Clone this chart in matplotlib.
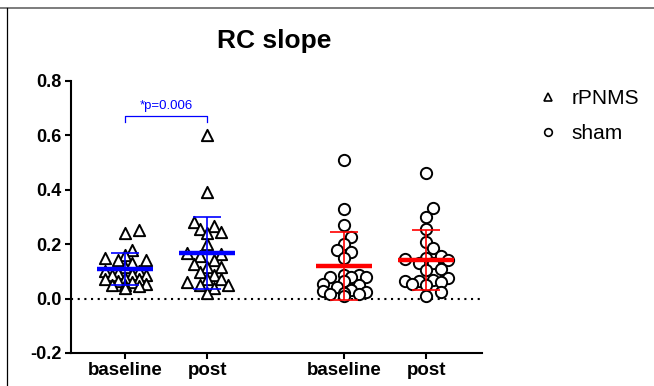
import matplotlib
matplotlib.use("Agg")
import matplotlib.pyplot as plt
from matplotlib.lines import Line2D
import numpy as np

plt.rcParams['font.family'] = ['Liberation Sans', 'DejaVu Sans']

# values
groups = ['baseline', 'post', 'baseline', 'post']
positions = [1.0, 2.0, 3.67, 4.67]

rpnms_baseline = [0.25, 0.24, 0.18, 0.16, 0.15, 0.14, 0.14, 0.13, 0.115, 0.10,
                  0.10, 0.095, 0.09, 0.085, 0.085, 0.075, 0.07, 0.07, 0.065,
                  0.06, 0.055, 0.05, 0.05, 0.045, 0.04]
rpnms_post = [0.60, 0.39, 0.28, 0.268, 0.256, 0.245, 0.24, 0.199, 0.167, 0.164,
              0.157, 0.143, 0.127, 0.115, 0.115, 0.097, 0.085, 0.07, 0.07,
              0.06, 0.05, 0.048, 0.04, 0.02]
sham_baseline = [0.51, 0.33, 0.27, 0.225, 0.20, 0.18, 0.17, 0.15, 0.085, 0.085,
                 0.08, 0.08, 0.08, 0.065, 0.055, 0.048, 0.042, 0.033, 0.027,
                 0.023, 0.021, 0.017, 0.017, 0.011]
sham_post = [0.461, 0.332, 0.301, 0.256, 0.207, 0.186, 0.158, 0.15, 0.146, 0.143,
             0.131, 0.13, 0.109, 0.103, 0.076, 0.069, 0.066, 0.066, 0.06,
             0.054, 0.048, 0.023, 0.008]

group_means = [0.1075, 0.1685, 0.12, 0.1425]
group_sds = [0.0595, 0.1325, 0.124, 0.11]
bar_colors = ['#0000ff', '#0000ff', '#ff0000', '#ff0000']

p_label = '*p=0.006'


def column_scatter_x(ax, x0, vals, col_w=6.8, gap_same=10.0, gap_next=5.0, max_col=3):
    # Prism-like column scatter: points snap to columns, nearest free column first;
    # if none is free within max_col, take the least crowded one
    trans = ax.transData
    pts = trans.transform(np.column_stack([np.full(len(vals), x0), vals]))
    placed = []
    xs = np.zeros(len(vals))
    cols = [0]
    for c in range(1, max_col + 1):
        cols += [c, -c]
    for i in np.argsort(vals):
        px, py = pts[i]
        chosen, best_score = None, -1.0
        for col in cols:
            score = 1.0
            for qc, qy in placed:
                d = abs(col - qc)
                dy = abs(py - qy)
                if d == 0:
                    score = min(score, dy / gap_same)
                elif d == 1:
                    score = min(score, dy / gap_next)
            if score >= 1.0:
                chosen = col
                break
            if score > best_score:
                chosen, best_score = col, score
        placed.append((chosen, py))
        xs[i] = px + chosen * col_w
    return trans.inverted().transform(np.column_stack([xs, pts[:, 1]]))[:, 0]


fig = plt.figure(figsize=(6.54, 3.86), dpi=100)
ax = fig.add_axes([0.1086, 0.0855, 0.6284, 0.7055])
ax.set_xlim(0.34, 5.35)
ax.set_ylim(-0.2, 0.8)

all_vals = [rpnms_baseline, rpnms_post, sham_baseline, sham_post]
markers = ['^', '^', 'o', 'o']
for pos, vals, m in zip(positions, all_vals, markers):
    if m == '^':
        xs = column_scatter_x(ax, pos, vals, col_w=6.8, gap_same=8.0, gap_next=4.0)
    else:
        xs = column_scatter_x(ax, pos, vals, col_w=7.2, gap_same=10.0, gap_next=5.0)
    ax.scatter(xs, vals, s=66, marker=m, facecolors='white', edgecolors='black',
               linewidths=1.4, zorder=3)

# mean +/- SD
for pos, mu, sd, c in zip(positions, group_means, group_sds, bar_colors):
    ax.hlines(mu, pos - 0.34, pos + 0.34, colors=c, lw=3.2, zorder=4)
    ax.vlines(pos, mu - sd, mu + sd, colors=c, lw=1.2, zorder=4)
    ax.hlines([mu - sd, mu + sd], pos - 0.17, pos + 0.17, colors=c, lw=1.2, zorder=4)

ax.axhline(0, color='black', lw=1.5, ls=(0, (1, 2.2)), zorder=2)

# significance bracket
ax.plot([positions[0], positions[0], positions[1], positions[1]],
        [0.648, 0.67, 0.67, 0.648], color='#0000ff', lw=0.9)
ax.text((positions[0] + positions[1]) / 2, 0.685, p_label, color='#0000ff',
        fontsize=9.5, ha='center', va='bottom')

ax.set_xticks(positions)
ax.set_xticklabels(groups, fontsize=13.5, fontweight='bold')
ax.set_yticks(np.arange(-0.2, 0.81, 0.2))
ax.set_yticklabels([f'{v:.1f}' for v in np.arange(-0.2, 0.81, 0.2)],
                   fontsize=13, fontweight='bold')
ax.tick_params(direction='out', length=4.5, width=1.5, pad=2)
for s in ['top', 'right']:
    ax.spines[s].set_visible(False)
for s in ['left', 'bottom']:
    ax.spines[s].set_linewidth(1.5)

fig.text(0.42, 0.893, 'RC slope', fontsize=19, fontweight='bold',
         ha='center', va='center')

handles = [Line2D([], [], ls='none', marker='^', ms=5.5, mfc='white', mec='black', mew=1.2),
           Line2D([], [], ls='none', marker='o', ms=5.5, mfc='white', mec='black', mew=1.2)]
fig.legend(handles, ['rPNMS', 'sham'], loc='upper left', bbox_to_anchor=(0.81, 0.79),
           frameon=False, fontsize=15, handlelength=1.0, handletextpad=0.6,
           labelspacing=0.75, borderaxespad=0)

# page frame from the source screenshot
fig.add_artist(Line2D([0, 1], [0.979, 0.979], color='#666666', lw=1.2))
fig.add_artist(Line2D([0.0107, 0.0107], [0, 0.979], color='black', lw=0.9))

fig.savefig('out.png', dpi=100)
